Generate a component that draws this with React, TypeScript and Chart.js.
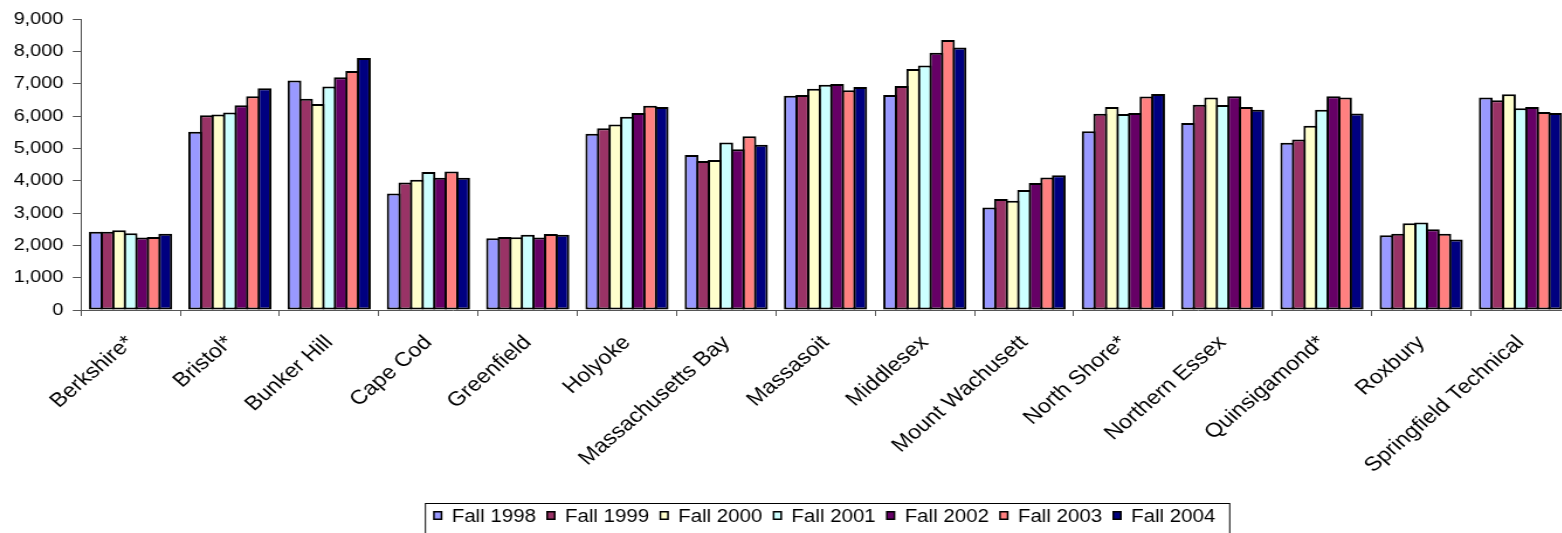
import { useEffect, useRef } from 'react';
import { Chart, registerables } from 'chart.js';

Chart.register(...registerables);

const categories = [
  'Berkshire*',
  'Bristol*',
  'Bunker Hill',
  'Cape Cod',
  'Greenfield',
  'Holyoke',
  'Massachusetts Bay',
  'Massasoit',
  'Middlesex',
  'Mount Wachusett',
  'North Shore*',
  'Northern Essex',
  'Quinsigamond*',
  'Roxbury',
  'Springfield Technical',
];

const seriesLabels = ['Fall 1998', 'Fall 1999', 'Fall 2000', 'Fall 2001', 'Fall 2002', 'Fall 2003', 'Fall 2004'];

const fall1998 = [2420, 5510, 7100, 3600, 2220, 5450, 4790, 6630, 6650, 3170, 5530, 5780, 5170, 2310, 6570];
const fall1999 = [2420, 6020, 6530, 3940, 2260, 5620, 4610, 6650, 6930, 3430, 6070, 6350, 5270, 2360, 6490];
const fall2000 = [2470, 6050, 6370, 4030, 2250, 5740, 4640, 6840, 7450, 3380, 6280, 6570, 5700, 2680, 6670];
const fall2001 = [2370, 6110, 6910, 4270, 2330, 5980, 5180, 6970, 7560, 3710, 6060, 6340, 6190, 2710, 6240];
const fall2002 = [2240, 6330, 7200, 4090, 2240, 6090, 4970, 6990, 7960, 3930, 6090, 6610, 6610, 2500, 6280];
const fall2003 = [2260, 6610, 7390, 4280, 2350, 6320, 5370, 6800, 8350, 4100, 6600, 6280, 6570, 2360, 6120];
const fall2004 = [2360, 6860, 7790, 4090, 2330, 6280, 5110, 6900, 8120, 4170, 6680, 6190, 6080, 2180, 6090];

const seriesValues = [fall1998, fall1999, fall2000, fall2001, fall2002, fall2003, fall2004];
const seriesColors = ['#9999FF', '#993366', '#FFFFCC', '#CCFFFF', '#660066', '#FF8080', '#000080'];

const yTicks = [0, 1000, 2000, 3000, 4000, 5000, 6000, 7000, 8000, 9000];

const FONT_FAMILY = '"Liberation Sans", Arial, sans-serif';

// The reference image is horizontally stretched; the canvas is drawn narrower and widened with CSS.
const STRETCH = 1.17;
const CANVAS_W = 1420;
const CANVAS_H = 560;

const boxLegend = {
  id: 'boxLegend',
  afterDraw(chart: any) {
    const ctx = chart.ctx as CanvasRenderingContext2D;
    const left = 363.2;
    const top = 503;
    const pitch = 96.8;
    const n = chart.data.datasets.length;
    const width = n * pitch + 10;
    ctx.save();
    ctx.strokeStyle = '#000';
    ctx.lineWidth = 1;
    ctx.strokeRect(left + 0.5, top + 0.5, width, 40);
    ctx.font = `17.5px ${FONT_FAMILY}`;
    ctx.textBaseline = 'alphabetic';
    ctx.textAlign = 'left';
    chart.data.datasets.forEach((ds: any, i: number) => {
      const sx = left + 7 + i * pitch;
      const sy = 511;
      ctx.fillStyle = '#000';
      ctx.fillRect(sx, sy, 8, 9);
      ctx.fillStyle = ds.backgroundColor;
      ctx.fillRect(sx + 1.5, sy + 1.5, 5, 6);
      ctx.fillStyle = '#000';
      ctx.fillText(ds.label, sx + 16, 522);
    });
    ctx.restore();
  },
};

export default function App() {
  const ref = useRef<HTMLCanvasElement>(null);

  useEffect(() => {
    if (!ref.current) return;
    Chart.defaults.font.family = FONT_FAMILY;
    const chart = new Chart(ref.current, {
      type: 'bar',
      data: {
        labels: categories,
        datasets: seriesValues.map((d, i) => ({
          label: seriesLabels[i],
          data: d,
          backgroundColor: seriesColors[i],
          borderColor: '#000',
          borderWidth: 2,
          borderSkipped: false,
          categoryPercentage: 0.815,
          barPercentage: 1.2,
        })),
      },
      options: {
        responsive: false,
        animation: false,
        devicePixelRatio: 1,
        layout: { padding: { left: 0, top: 19, right: CANVAS_W - 1342.3, bottom: 0 } },
        plugins: {
          legend: { display: false },
          tooltip: { enabled: false },
        },
        scales: {
          x: {
            offset: true,
            grid: {
              display: true,
              drawOnChartArea: false,
              drawTicks: true,
              tickLength: 6,
              color: '#555',
              offset: true,
            },
            border: { display: true, color: '#555', width: 1 },
            ticks: {
              autoSkip: false,
              maxRotation: 45,
              minRotation: 45,
              padding: 15,
              color: '#000',
              font: { size: 20, family: FONT_FAMILY },
            },
            afterFit: (s: any) => {
              s.height = CANVAS_H - 310;
            },
          },
          y: {
            min: 0,
            max: 9000,
            afterBuildTicks: (s: any) => {
              s.ticks = yTicks.map((v) => ({ value: v }));
            },
            ticks: {
              padding: 8,
              color: '#000',
              font: { size: 17, family: FONT_FAMILY },
              callback: (v: any) => Number(v).toLocaleString('en-US'),
            },
            grid: {
              display: true,
              drawOnChartArea: false,
              drawTicks: true,
              tickLength: 7,
              color: '#555',
            },
            border: { display: true, color: '#555', width: 1 },
            afterFit: (s: any) => {
              s.width = 69.2;
            },
          },
        },
      },
      plugins: [boxLegend],
    });
    return () => chart.destroy();
  }, []);

  return (
    <div
      style={{
        position: 'fixed',
        left: 0,
        top: 0,
        width: 1562,
        height: 533,
        overflow: 'hidden',
        background: '#fff',
      }}
    >
      <canvas
        ref={ref}
        width={CANVAS_W}
        height={CANVAS_H}
        style={{ display: 'block', width: `${CANVAS_W * STRETCH}px`, height: `${CANVAS_H}px` }}
      />
    </div>
  );
}
